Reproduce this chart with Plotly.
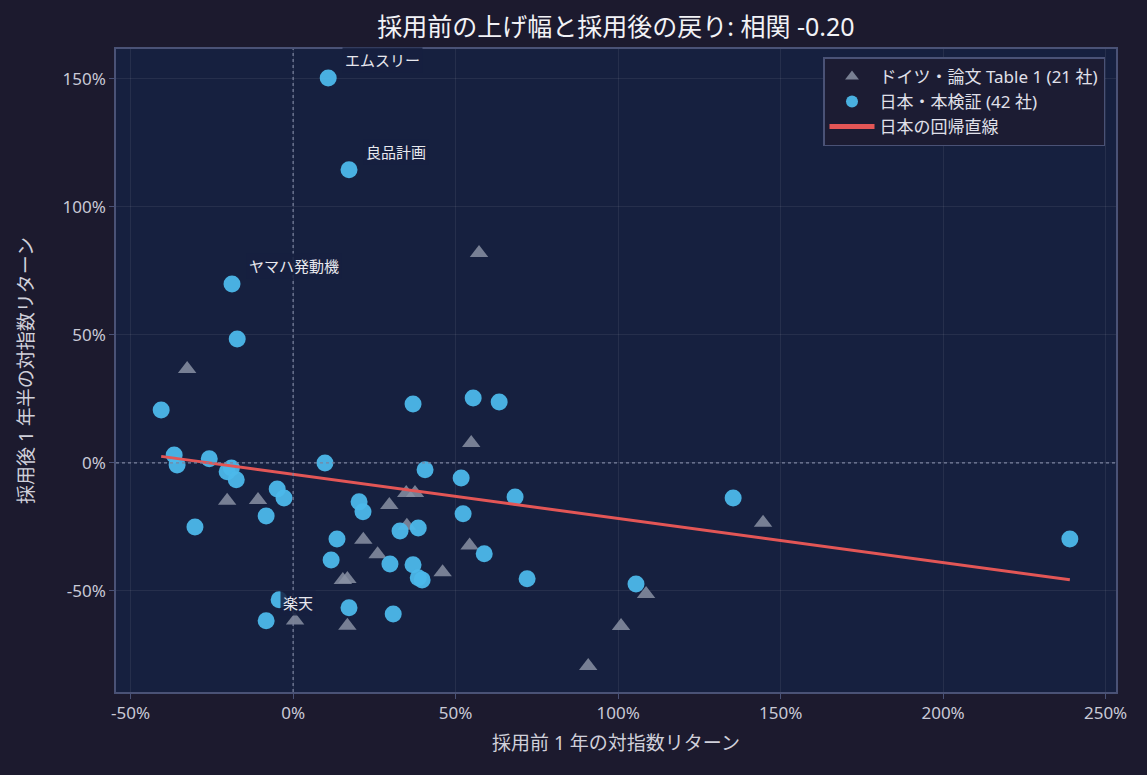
import plotly.graph_objects as go
import numpy as np

# 日本・本検証 (42 社): 採用前 1 年 / 採用後 1 年半 の対指数リターン (%)
jp_x = [10.8, 17.2, -18.8, -17.2, -40.6, -36.6, -35.7, -25.8, -20.3, -19.0,
        -17.5, -30.2, -4.9, -2.8, -8.3, 9.8, 13.5, 11.7, 20.3, 21.5,
        17.2, -4.3, -8.3, 30.8, 36.9, 55.4, 63.4, 40.6, 51.7, 52.3,
        68.3, 32.9, 38.5, 29.8, 36.9, 38.5, 39.7, 58.8, 72.0, 135.4,
        105.5, 239.0]
jp_y = [150.4, 114.5, 69.9, 48.4, 20.7, 3.1, -0.8, 1.6, -3.5, -2.0,
        -6.6, -25.0, -10.2, -13.7, -20.7, 0.0, -29.7, -37.9, -15.2, -19.1,
        -56.6, -53.5, -61.7, -59.0, 23.0, 25.4, 23.8, -2.7, -5.9, -19.9,
        -13.3, -26.6, -25.4, -39.5, -39.8, -44.9, -45.7, -35.5, -45.3, -13.7,
        -47.3, -29.7]

# ドイツ・論文 Table 1 (21 社)
de_x = [-32.6, 57.2, 54.8, -20.3, -10.8, 29.6, 34.8, 37.5, 35.0, 21.6,
        26.0, 15.3, 16.7, 46.0, 54.3, 0.6, 16.7, 90.8, 100.9, 108.6, 144.6]
de_y = [36.7, 82.0, 7.8, -14.8, -14.5, -16.4, -11.8, -11.8, -24.6, -30.0,
        -35.7, -45.7, -45.4, -42.7, -32.3, -61.6, -63.6, -79.3, -63.7, -51.2, -23.4]

# 名前付きの点 (jp の index)
labels = {0: "エムスリー", 1: "良品計画", 2: "ヤマハ発動機", 22: "楽天"}

x_ticks = [-50, 0, 50, 100, 150, 200, 250]
x_tick_text = ["-50%", "0%", "50%", "100%", "150%", "200%", "250%"]
y_ticks = [-50, 0, 50, 100, 150]
y_tick_text = ["-50%", "0%", "50%", "100%", "150%"]

FONT = "Noto Sans, Noto Sans CJK JP, sans-serif"
PAPER = "#1c1a2e"
PLOT = "#16203f"
FRAME = "#4a5276"

slope, icpt = np.polyfit(jp_x, jp_y, 1)
fit_x = np.array([min(jp_x), max(jp_x)])
fit_y = slope * fit_x + icpt

fig = go.Figure()

fig.add_trace(go.Scatter(
    x=de_x, y=de_y,
    mode="markers",
    marker=dict(symbol="triangle-up", size=16, color="#8891a3", opacity=0.85,
                line=dict(width=0)),
    name="ドイツ・論文 Table 1 (21 社)",
    hoverinfo="skip"
))

fig.add_trace(go.Scatter(
    x=jp_x, y=jp_y,
    mode="markers",
    marker=dict(size=17, color="#4cb8ea", opacity=0.95, line=dict(width=0)),
    name="日本・本検証 (42 社)",
    hoverinfo="skip"
))

fig.add_trace(go.Scatter(
    x=fit_x, y=fit_y,
    mode="lines",
    line=dict(width=3, color="#e35656"),
    name="日本の回帰直線",
    hoverinfo="skip"
))

for i, name in labels.items():
    fig.add_annotation(
        x=jp_x[i], y=jp_y[i], text=name,
        showarrow=False, xanchor="left", yanchor="middle",
        xshift=14, yshift=18,
        font=dict(family=FONT, size=15, color="#e8e8ee"),
        bgcolor="rgba(22,32,63,0.85)", borderpad=2
    )

# 0 の補助線
fig.add_vline(x=0, line=dict(color="#7c84a0", width=1.2, dash="dot"))
fig.add_hline(y=0, line=dict(color="#7c84a0", width=1.2, dash="dot"))

axis_common = dict(
    showgrid=True, gridcolor="rgba(255,255,255,0.07)", gridwidth=1,
    zeroline=False,
    showline=True, linecolor=FRAME, linewidth=1.5, mirror=True,
    ticks="outside", ticklen=5, tickcolor=FRAME,
    tickfont=dict(family=FONT, size=17, color="#c9c9d6"),
)

fig.update_layout(
    width=1147, height=775,
    paper_bgcolor=PAPER, plot_bgcolor=PLOT,
    font=dict(family=FONT, color="#d0d0da"),
    title=dict(text="採用前の上げ幅と採用後の戻り: 相関 -0.20",
               x=0.537, xanchor="center", y=0.965, yanchor="middle",
               font=dict(family=FONT, size=25, color="#f2f2f6")),
    margin=dict(l=116, r=31, t=49, b=83),
    xaxis=dict(range=[-54.5, 253.2], tickvals=x_ticks, ticktext=x_tick_text,
               title=dict(text="採用前 1 年の対指数リターン", standoff=14,
                          font=dict(family=FONT, size=19, color="#d0d0da")),
               **axis_common),
    yaxis=dict(range=[-89.5, 161.7], tickvals=y_ticks, ticktext=y_tick_text,
               title=dict(text="採用後 1 年半の対指数リターン", standoff=24,
                          font=dict(family=FONT, size=19, color="#d0d0da")),
               **axis_common),
    legend=dict(x=0.989, xanchor="right", y=0.987, yanchor="top",
                bgcolor="#1c1c33", bordercolor=FRAME, borderwidth=1.5,
                font=dict(family=FONT, size=17, color="#e0e0ea"),
                itemsizing="constant", itemwidth=45),
    showlegend=True,
)

fig.write_html(
    "out.html",
    config={"displayModeBar": False},
    post_script="document.body.style.margin='0';"
                "document.body.style.background='%s';" % PAPER,
)
